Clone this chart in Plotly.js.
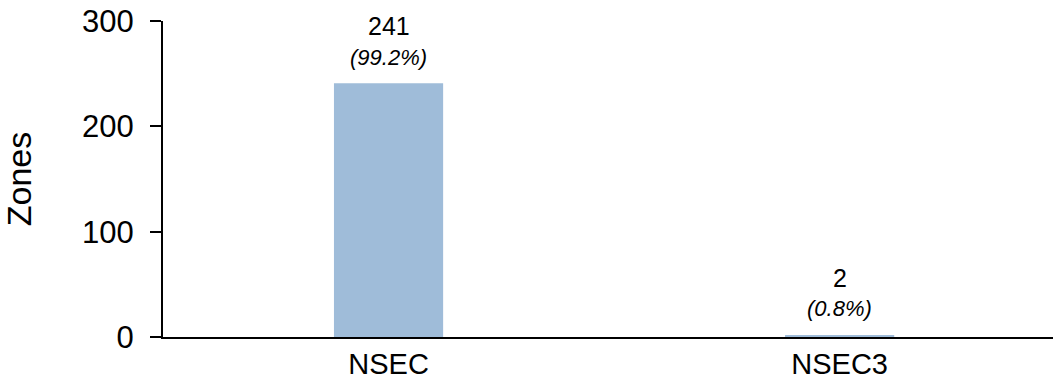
<!DOCTYPE html>
<html>
<head>
<meta charset="utf-8">
<script src="https://cdn.plot.ly/plotly-3.0.1.min.js"></script>
<style>
  html, body { margin: 0; padding: 0; background: #ffffff; }
  #chart { width: 1053px; height: 379px; }
</style>
</head>
<body>
<div id="chart"></div>
<script>
// Zone counts by denial-of-existence record type
const categories = ["NSEC", "NSEC3"];
const zoneCounts = [241, 2];
const zoneShares = [99.2, 0.8];

const FONT = '"Liberation Sans", Arial, sans-serif';
const barColor = '#9FBCD9';

const trace = {
  type: 'bar',
  x: categories,
  y: zoneCounts,
  width: 0.242,
  marker: { color: barColor, line: { width: 0 } },
  hoverinfo: 'skip'
};

// Count and share labels stacked above each bar
const annotations = [];
categories.forEach((cat, i) => {
  annotations.push({
    x: cat, y: zoneCounts[i], xref: 'x', yref: 'y',
    text: String(zoneCounts[i]),
    showarrow: false, yanchor: 'middle', yshift: 57,
    font: { family: FONT, size: 25, color: '#000000' }
  });
  annotations.push({
    x: cat, y: zoneCounts[i], xref: 'x', yref: 'y',
    text: '<i>(' + zoneShares[i].toFixed(1) + '%)</i>',
    showarrow: false, yanchor: 'middle', yshift: 26,
    font: { family: FONT, size: 22, color: '#000000' }
  });
});

const layout = {
  width: 1053,
  height: 379,
  margin: { l: 163, r: 0, t: 21, b: 42, pad: 0 },
  paper_bgcolor: '#ffffff',
  plot_bgcolor: '#ffffff',
  showlegend: false,
  font: { family: FONT, color: '#000000' },
  xaxis: {
    type: 'category',
    range: [-0.5, 1.473],
    showline: true,
    linecolor: '#000000',
    linewidth: 2,
    ticks: '',
    showgrid: false,
    zeroline: false,
    tickfont: { family: FONT, size: 29, color: '#000000' },
    fixedrange: true
  },
  yaxis: {
    range: [0, 300],
    tickvals: [0, 100, 200, 300],
    showline: true,
    linecolor: '#000000',
    linewidth: 2,
    ticks: 'outside',
    ticklen: 11,
    tickwidth: 2,
    tickcolor: '#000000',
    ticklabelstandoff: 10,
    showgrid: false,
    zeroline: false,
    tickfont: { family: FONT, size: 31, color: '#000000' },
    title: { text: 'Zones', font: { family: FONT, size: 34, color: '#000000' }, standoff: 42 },
    fixedrange: true
  },
  annotations: annotations
};

Plotly.newPlot('chart', [trace], layout, { displayModeBar: false, staticPlot: true });
</script>
</body>
</html>
